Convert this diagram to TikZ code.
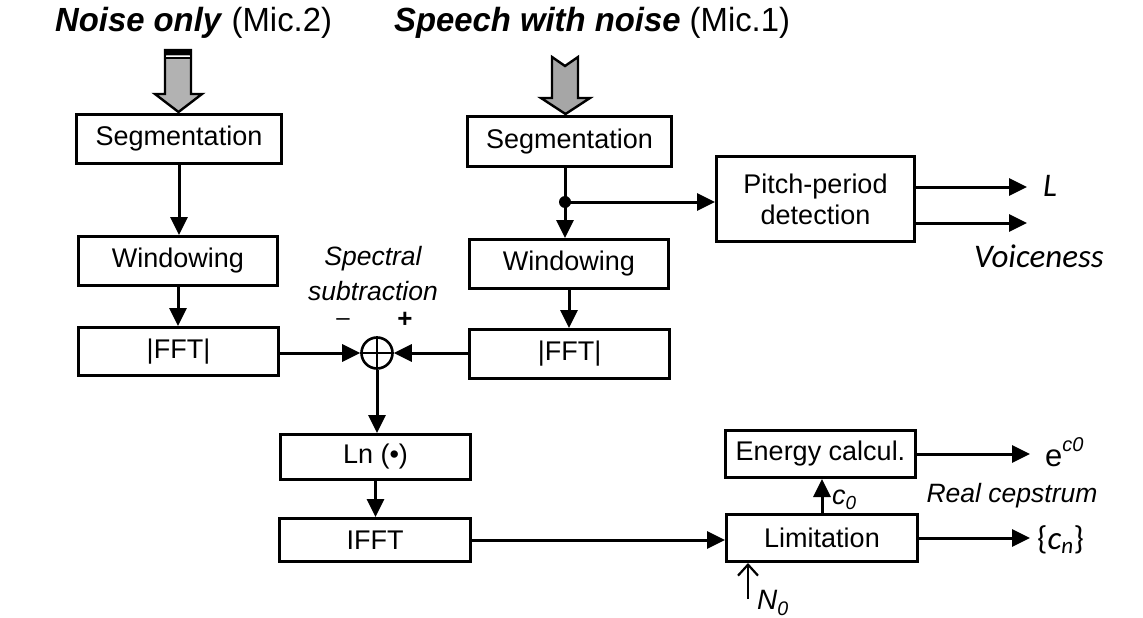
\documentclass[tikz,border=0pt]{standalone}
\usepackage{fontspec}
\setmainfont{Liberation Sans}
\newfontfamily\calfont{Carlito}
\newfontfamily\narrowfont[FakeStretch=0.98]{Liberation Sans}
\usetikzlibrary{arrows.meta,calc}

\begin{document}
\begin{tikzpicture}[x=1pt,y=-1pt,
  blk/.style={draw,line width=3pt,rectangle,inner sep=0pt,align=center,
    font=\fontsize{27}{31}\selectfont},
  conn/.style={line width=3pt,-{Triangle[length=18pt,width=17pt]}},
  wire/.style={line width=3pt},
  lbl/.style={inner sep=0pt,font=\fontsize{26.5}{35}\selectfont\itshape},
  cal/.style={inner sep=0pt,font=\fontsize{33}{36}\selectfont\calfont\itshape},
  title/.style={anchor=west,inner sep=0pt,font=\fontsize{33.5}{36}\selectfont\narrowfont},
  bigarrow/.style={draw,line width=2.4pt,line join=miter,fill=gray!55}
]
\useasboundingbox (0,0) rectangle (1143,618);

% input captions
\node[title] (t2) at (55,23)
  {\bfseries\itshape Noise only\/\mdseries\upshape{} (Mic.2)};
\node[title] (t1) at (394,23)
  {\bfseries\itshape Speech with noise\/\mdseries\upshape{} (Mic.1)};

% microphone input arrows
\draw[bigarrow,fill=gray!60] (165,50)--(191,50)--(191,94)--(202,94)--(178.5,112)--(155,94)--(165,94)--cycle;
\fill (164,49) rectangle (192,55.5);
\draw[white,line width=1.3pt] (166,56.6)--(190,56.6);
\draw[line width=1.8pt] (165,58.3)--(191,58.3);
\draw[bigarrow,fill=gray!70] (552,57)--(565,66)--(578,57)--(578,98)--(590,98)--(565.5,114)--(541,98)--(552,98)--cycle;

% processing blocks
\node[blk,minimum width=205,minimum height=49] (seg1) at (179,139) {Segmentation};
\node[blk,minimum width=199,minimum height=49] (win1) at (178,261) {Windowing};
\node[blk,minimum width=200,minimum height=48] (fft1) at (178.5,351.5) {|FFT|};
\node[blk,minimum width=204,minimum height=50] (seg2) at (569.5,141.5) {Segmentation};
\node[blk,minimum width=199,minimum height=49] (win2) at (569,264) {Windowing};
\node[blk,minimum width=200,minimum height=49] (fft2) at (569.5,354) {|FFT|};
\node[blk,minimum width=198,minimum height=85] (pitch) at (815.5,199) {Pitch-period\\detection};
\node[blk,minimum width=190,minimum height=45] (ln) at (375.5,457) {Ln (•)};
\node[blk,minimum width=191,minimum height=43] (ifft) at (375,540) {IFFT};
\node[blk,minimum width=190,minimum height=47] (energy) at (820.5,454) {Energy calcul.};
\node[blk,minimum width=191,minimum height=47] (limit) at (822,538) {Limitation};

% summing junction
\node[circle,draw,line width=2.6pt,minimum size=31,inner sep=0pt] (sum) at (377,353) {};
\draw[line width=2.2pt] (sum.north)--(sum.south) (sum.west)--(sum.east);

% labels
\node[lbl,align=center] (spec) at (373,274) {Spectral\\subtraction};
\node[inner sep=0pt,font=\fontsize{24}{26}\selectfont] (minus) at (343,322) {\textendash};
\node[inner sep=0pt,font=\fontsize{26}{28}\selectfont\bfseries] (plus) at (405,320) {+};
\node[lbl] (real) at (1012,496) {Real cepstrum};
\node[cal,anchor=west] (Lout) at (1043,186) {L};
\node[cal,anchor=west] (voice) at (974,256) {Voiceness};
\node[inner sep=0pt,anchor=west,font=\fontsize{31}{34}\selectfont] (eout) at (1045,452)
  {e\raisebox{0.5em}{\fontsize{20}{22}\selectfont\itshape c0}};
\node[inner sep=0pt,anchor=west,font=\fontsize{33}{36}\selectfont\calfont] (cout) at (1037,540)
  {\{\textit{c}\textsubscript{\itshape n}\}};
\node[inner sep=0pt,anchor=west,font=\fontsize{27}{30}\selectfont\itshape] (c0) at (832,500)
  {c\textsubscript{0}};
\node[inner sep=0pt,anchor=west,font=\fontsize{28}{30}\selectfont\itshape] (n0lbl) at (757,603)
  {N\textsubscript{0}};

% connectors
\draw[conn] (seg1.south) -- (seg1.south |- win1.north);
\draw[conn] (win1.south) -- (win1.south |- fft1.north);
\coordinate (j) at (565,202);
\draw[wire] (j |- seg2.south) -- (j);
\draw[conn] (j) -- (j |- win2.north);
\draw[conn] (j) -- (pitch.west |- j);
\fill (j) circle (6);
\draw[conn] (win2.south) -- (win2.south |- fft2.north);
\draw[conn] (fft1.east |- sum) -- (sum.west);
\draw[conn] (fft2.west |- sum) -- (sum.east);
\draw[conn] (sum.south) -- (sum.south |- ln.north);
\draw[conn] (ln.south) -- (ln.south |- ifft.north);
\draw[conn] (ifft.east) -- (ifft.east -| limit.west);
\draw[conn] (limit.north) -- (limit.north |- energy.south);
\coordinate (Lend) at (1027,187);
\coordinate (Vend) at (1027,223);
\draw[conn] (pitch.east |- Lend) -- (Lend);
\draw[conn] (pitch.east |- Vend) -- (Vend);
\coordinate (Eend) at (1030,454);
\draw[conn] (energy.east) -- (Eend);
\coordinate (Cend) at (1030,538);
\draw[conn] (limit.east) -- (Cend);
\coordinate (n0) at (748,599);
\draw[line width=2.2pt,-{Straight Barb[length=11pt,width=20pt]}] (n0) -- (n0 |- limit.south);
\end{tikzpicture}
\end{document}
